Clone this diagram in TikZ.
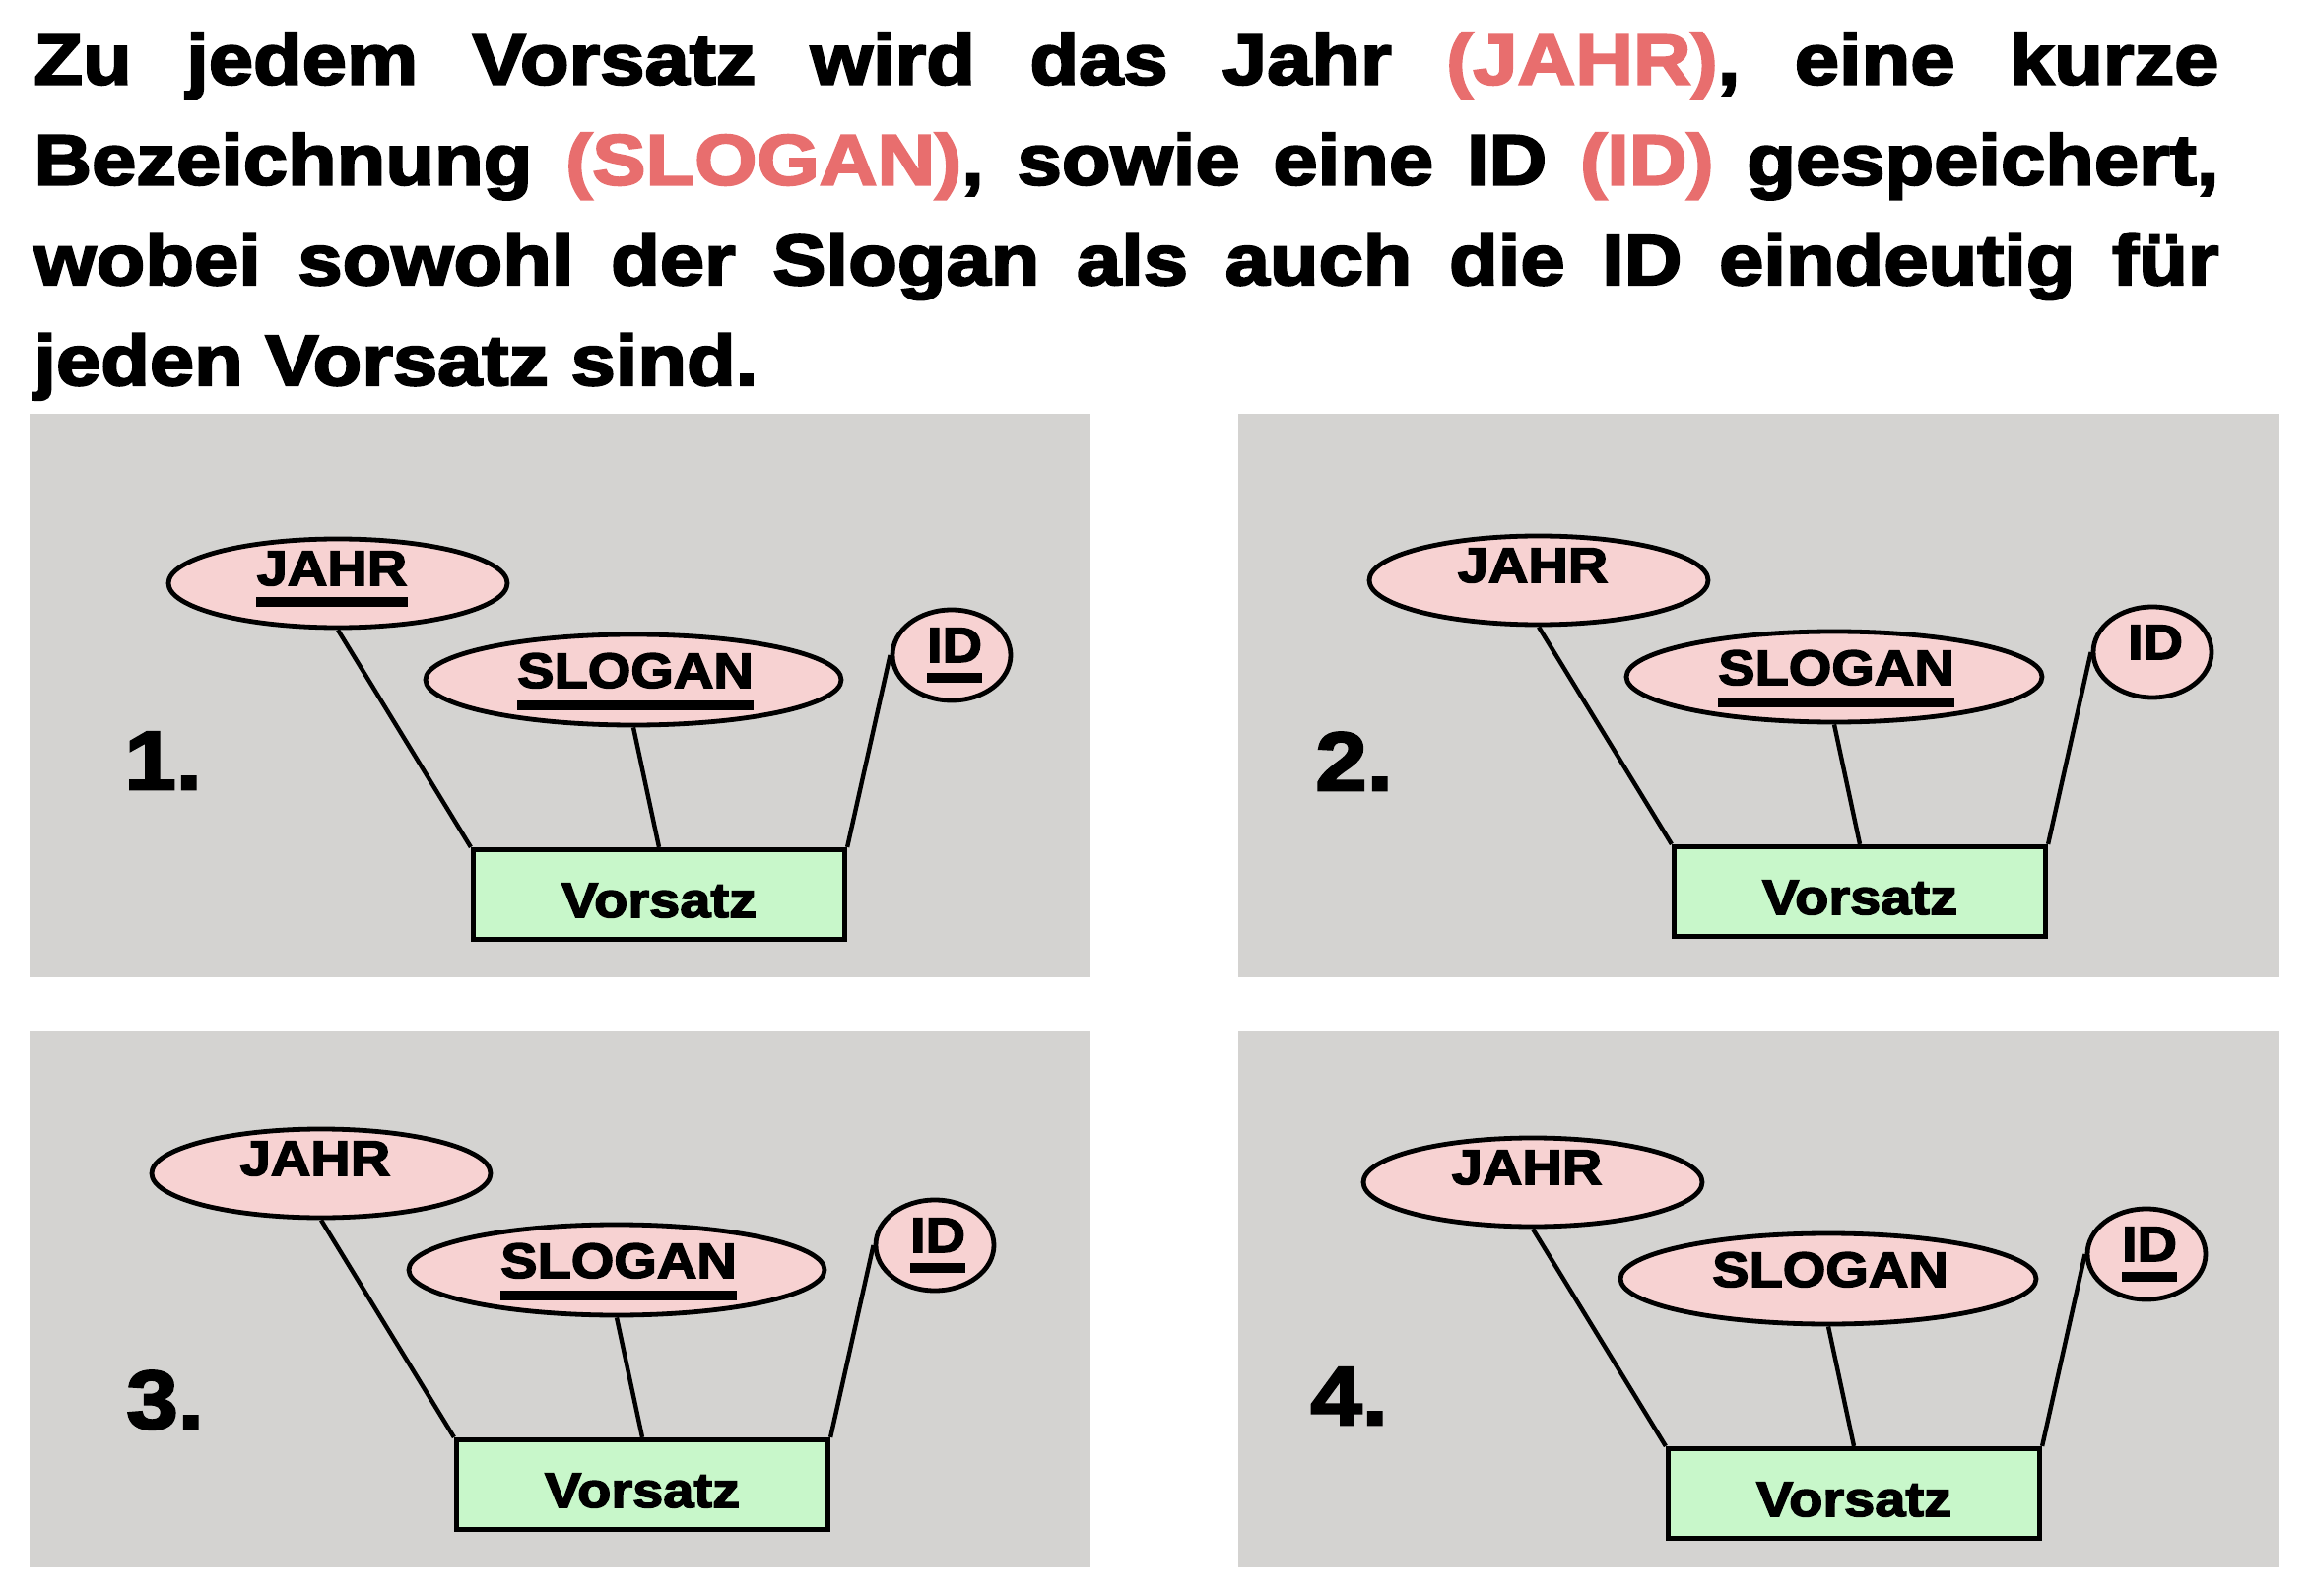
\documentclass[tikz,border=0pt]{standalone}
\usepackage{fontspec}
\newfontfamily\heavy{Liberation Sans}[FakeStretch=1.12,FakeBold=3]
\usetikzlibrary{shapes.geometric,calc}

\definecolor{hl}{HTML}{E86E6E}
\definecolor{panelgray}{HTML}{D4D3D1}
\definecolor{attrpink}{HTML}{F7D2D2}
\definecolor{entgreen}{HTML}{C8F7CA}

\tikzset{
  panelbox/.style={fill=panelgray, draw=none},
  attr/.style={ellipse, draw=black, line width=2.4pt, fill=attrpink, inner sep=0pt},
  jahrattr/.style={attr, minimum width=172pt, minimum height=45pt},
  sloganattr/.style={attr, minimum width=211pt, minimum height=46pt},
  idattr/.style={attr, minimum width=60pt, minimum height=46pt},
  entity/.style={rectangle, draw=black, line width=2.6pt, fill=entgreen,
    minimum width=188.5pt, minimum height=45.5pt, inner sep=0pt},
  lbl/.style={inner sep=0pt, anchor=base, font=\heavy\bfseries\fontsize{25pt}{30pt}\selectfont},
  num/.style={inner sep=0pt, anchor=base west, font=\heavy\bfseries\fontsize{42pt}{50pt}\selectfont},
  hdr/.style={inner sep=0pt, anchor=base west, font=\heavy\bfseries\fontsize{36.3pt}{50pt}\selectfont},
  conn/.style={draw=black, line width=2.2pt},
  ulbar/.style={fill=black, draw=none},
}

% #1 shift x, #2 shift y, #3 suffix, #4 underline JAHR, #5 underline SLOGAN, #6 underline ID
\newcommand\erpanel[6]{%
  \begin{scope}[shift={(#1,#2)}]
    \node[jahrattr] (j#3) at (343,592) {};
    \node[sloganattr] (s#3) at (643,690) {};
    \node[idattr] (i#3) at (966,665) {};
    \node[entity] (v#3) at (669,908) {};
    \draw[conn] (j#3.south) -- (v#3.north west);
    \draw[conn] (s#3.south) -- (v#3.north);
    \draw[conn] (i#3.west) -- (v#3.north east);
    \node[lbl] (jt#3) at (337,594) {JAHR};
    \node[lbl] (st#3) at (645,698) {SLOGAN};
    \node[lbl] (it#3) at (969,672) {ID};
    \node[lbl] (vt#3) at (669,931) {Vorsatz};
    \ifnum#4=1 \fill[ulbar] ($(jt#3.base west)+(0,12)$) rectangle ($(jt#3.base east)+(0,22)$);\fi
    \ifnum#5=1 \fill[ulbar] ($(st#3.base west)+(0,13)$) rectangle ($(st#3.base east)+(0,23)$);\fi
    \ifnum#6=1 \fill[ulbar] ($(it#3.base west)+(0,11)$) rectangle ($(it#3.base east)+(0,21)$);\fi
  \end{scope}}

\begin{document}
\begin{tikzpicture}[x=0.5pt,y=-0.5pt]
  \path[use as bounding box, fill=white] (0,0) rectangle (2346,1620);

  % header text
  \node[hdr] (h1) at (34,85.5) {\makebox[1109pt][s]{Zu jedem Vorsatz wird das Jahr \textcolor{hl}{(JAHR)}, eine kurze}};
  \node[hdr] (h2) at (34,187.5) {\makebox[1109pt][s]{Bezeichnung \textcolor{hl}{(SLOGAN)}, sowie eine ID \textcolor{hl}{(ID)} gespeichert,}};
  \node[hdr] (h3) at (34,289) {\makebox[1109pt][s]{wobei sowohl der Slogan als auch die ID eindeutig für}};
  \node[hdr] (h4) at (34,391) {jeden Vorsatz sind.};

  % panels
  \path[panelbox] (30,420) rectangle (1107,992);
  \path[panelbox] (1257,420) rectangle (2314,992);
  \path[panelbox] (30,1047) rectangle (1107,1591);
  \path[panelbox] (1257,1047) rectangle (2314,1591);

  \erpanel{0}{0}{1}{1}{1}{1}
  \erpanel{1219}{-3}{2}{0}{1}{0}
  \erpanel{-17}{599}{3}{0}{1}{1}
  \erpanel{1213}{608}{4}{0}{0}{1}

  \node[num] (n1) at (126,801) {1.};
  \node[num] (n2) at (1335,802) {2.};
  \node[num] (n3) at (128,1450) {3.};
  \node[num] (n4) at (1330,1446) {4.};
\end{tikzpicture}
\end{document}
